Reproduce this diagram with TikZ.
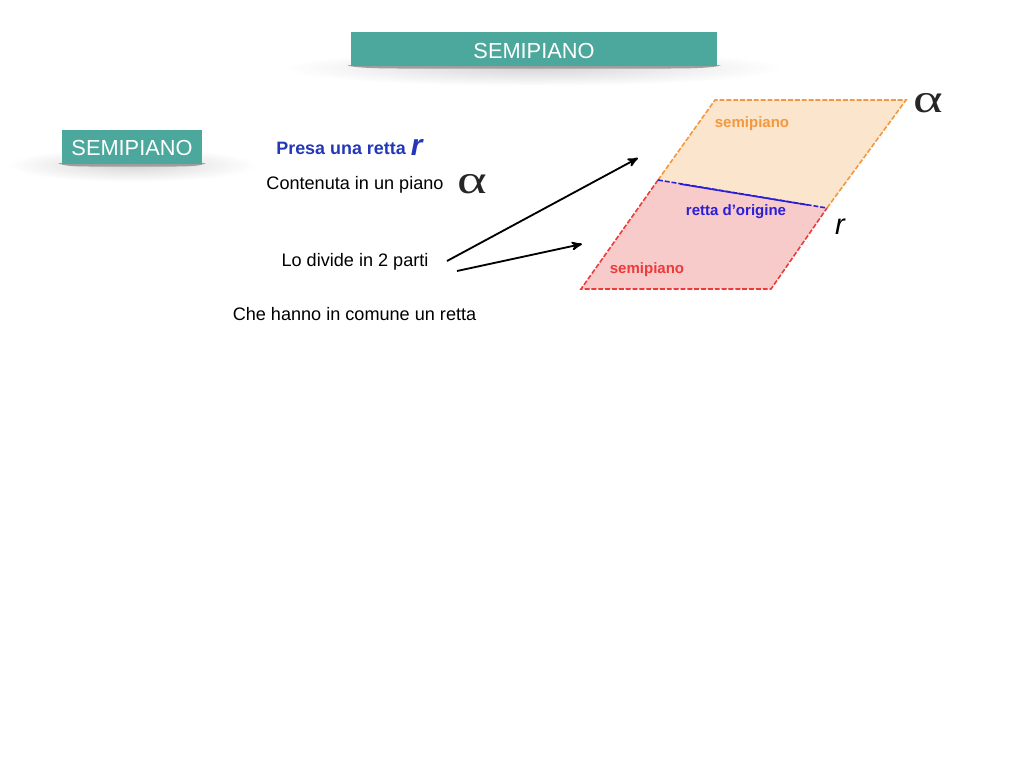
\documentclass[tikz,border=0pt]{standalone}
\usepackage{fontspec}
\setmainfont{Liberation Sans}
\newfontfamily\alphafont{Liberation Serif}
\usetikzlibrary{arrows}

\definecolor{teal1}{HTML}{4CA79C}
\definecolor{orange1}{HTML}{F2983F}
\definecolor{orange2}{HTML}{FCE5CD}
\definecolor{red1}{HTML}{EE3A3A}
\definecolor{red2}{HTML}{F8CBCB}
\definecolor{blue1}{HTML}{2B1FD6}
\definecolor{blue2}{HTML}{2337B8}

\tikzset{
	title/.style={fill=teal1,text=white,inner sep=0pt,font=\fontsize{12.4}{14}\selectfont},
	txt/.style={inner sep=0pt,font=\fontsize{10.3}{12}\selectfont},
	small/.style={inner sep=0pt,font=\fontsize{8.55}{10}\bfseries\selectfont},
	greek/.style={inner sep=0pt,text=black!85,xscale=1.4,transform shape,font=\fontsize{23}{25}\alphafont},
	softshadow/.style={inner color=black!16,outer color=white},
	barshadow/.style={fill=black!38},
	edgeo/.style={orange1,dash pattern=on 2.8pt off 1.1pt,line width=0.9pt},
	edger/.style={red1,dash pattern=on 2.8pt off 1.1pt,line width=0.9pt}
}

\begin{document}
\begin{tikzpicture}[>=stealth',x=0.02cm,y=-0.02cm]
	\useasboundingbox (0,0) rectangle (1024,768);

	% shadows
	\shade[softshadow] (534,68) ellipse (250 and 18);
	\shade[softshadow] (132,165) ellipse (125 and 17);
	\path[barshadow] (347,65) .. controls (352,68) and (380,68.5) .. (400,68.5) -- (668,68.5) .. controls (690,68.5) and (716,68) .. (721,65) -- cycle;
	\path[barshadow] (58,163) .. controls (63,166) and (75,166.5) .. (90,166.5) -- (174,166.5) .. controls (190,166.5) and (201,166) .. (206,163) -- cycle;

	% title bars
	\node[title,minimum width=7.32cm,minimum height=0.68cm] (bar) at (534,49) {};
	\node[title] (head) at (534,51) {SEMIPIANO};
	\node[title,minimum width=2.8cm,minimum height=0.68cm] (side) at (132,147) {};
	\node[title] (sidetxt) at (132,148) {SEMIPIANO};

	% plane
	\coordinate (tl) at (715,100);
	\coordinate (tr) at (906,100);
	\coordinate (ml) at (658,180);
	\coordinate (mr) at (827,208);
	\coordinate (bl) at (581,289);
	\coordinate (br) at (771,289);
	\coordinate (sa) at (680,184);
	\coordinate (sb) at (808,205);

	\fill[orange2] (tl) -- (tr) -- (mr) -- (ml) -- cycle;
	\fill[red2] (ml) -- (mr) -- (br) -- (bl) -- cycle;
	\draw[edgeo] (ml) -- (tl) -- (tr) -- (mr);
	\draw[edger] (ml) -- (bl) -- (br) -- (mr);
	\draw[blue1,dash pattern=on 2.8pt off 1.1pt,line width=0.9pt] (ml) -- (mr);
	\draw[blue1,line width=0.9pt] (sa) -- (sb);

	\node[small,text=orange1] (so) at (752,124) {semipiano};
	\node[small,text=blue1] (ro) at (736,212) {retta d'origine};
	\node[small,text=red1] (sr) at (647,270) {semipiano};
	\node[inner sep=0pt,font=\fontsize{16.5}{18}\itshape\selectfont] (r) at (840,227) {r};
	\node[greek] (a1) at (928,103) {α};

	% text
	\node[inner sep=0pt,anchor=base west,text=blue2,font=\fontsize{10.2}{12}\bfseries\selectfont] (presa) at (276,154) {Presa una retta \raisebox{-0.6pt}{\fontsize{17}{18}\itshape\selectfont r}};
	\node[txt] (cont) at (355,185) {Contenuta in un piano};
	\node[greek] (a2) at (472.5,184) {α};
	\node[txt] (lo) at (355,262) {Lo divide in 2 parti};
	\node[txt] (che) at (354.5,314) {Che hanno in comune un retta};

	% arrows
	\coordinate (p1) at (447,261);
	\coordinate (p2) at (638,158);
	\coordinate (q1) at (457,271);
	\coordinate (q2) at (582,244);
	\path[->,line width=1.05pt] (p1) edge (p2)
	(q1) edge (q2)
	;
\end{tikzpicture}
\end{document}
